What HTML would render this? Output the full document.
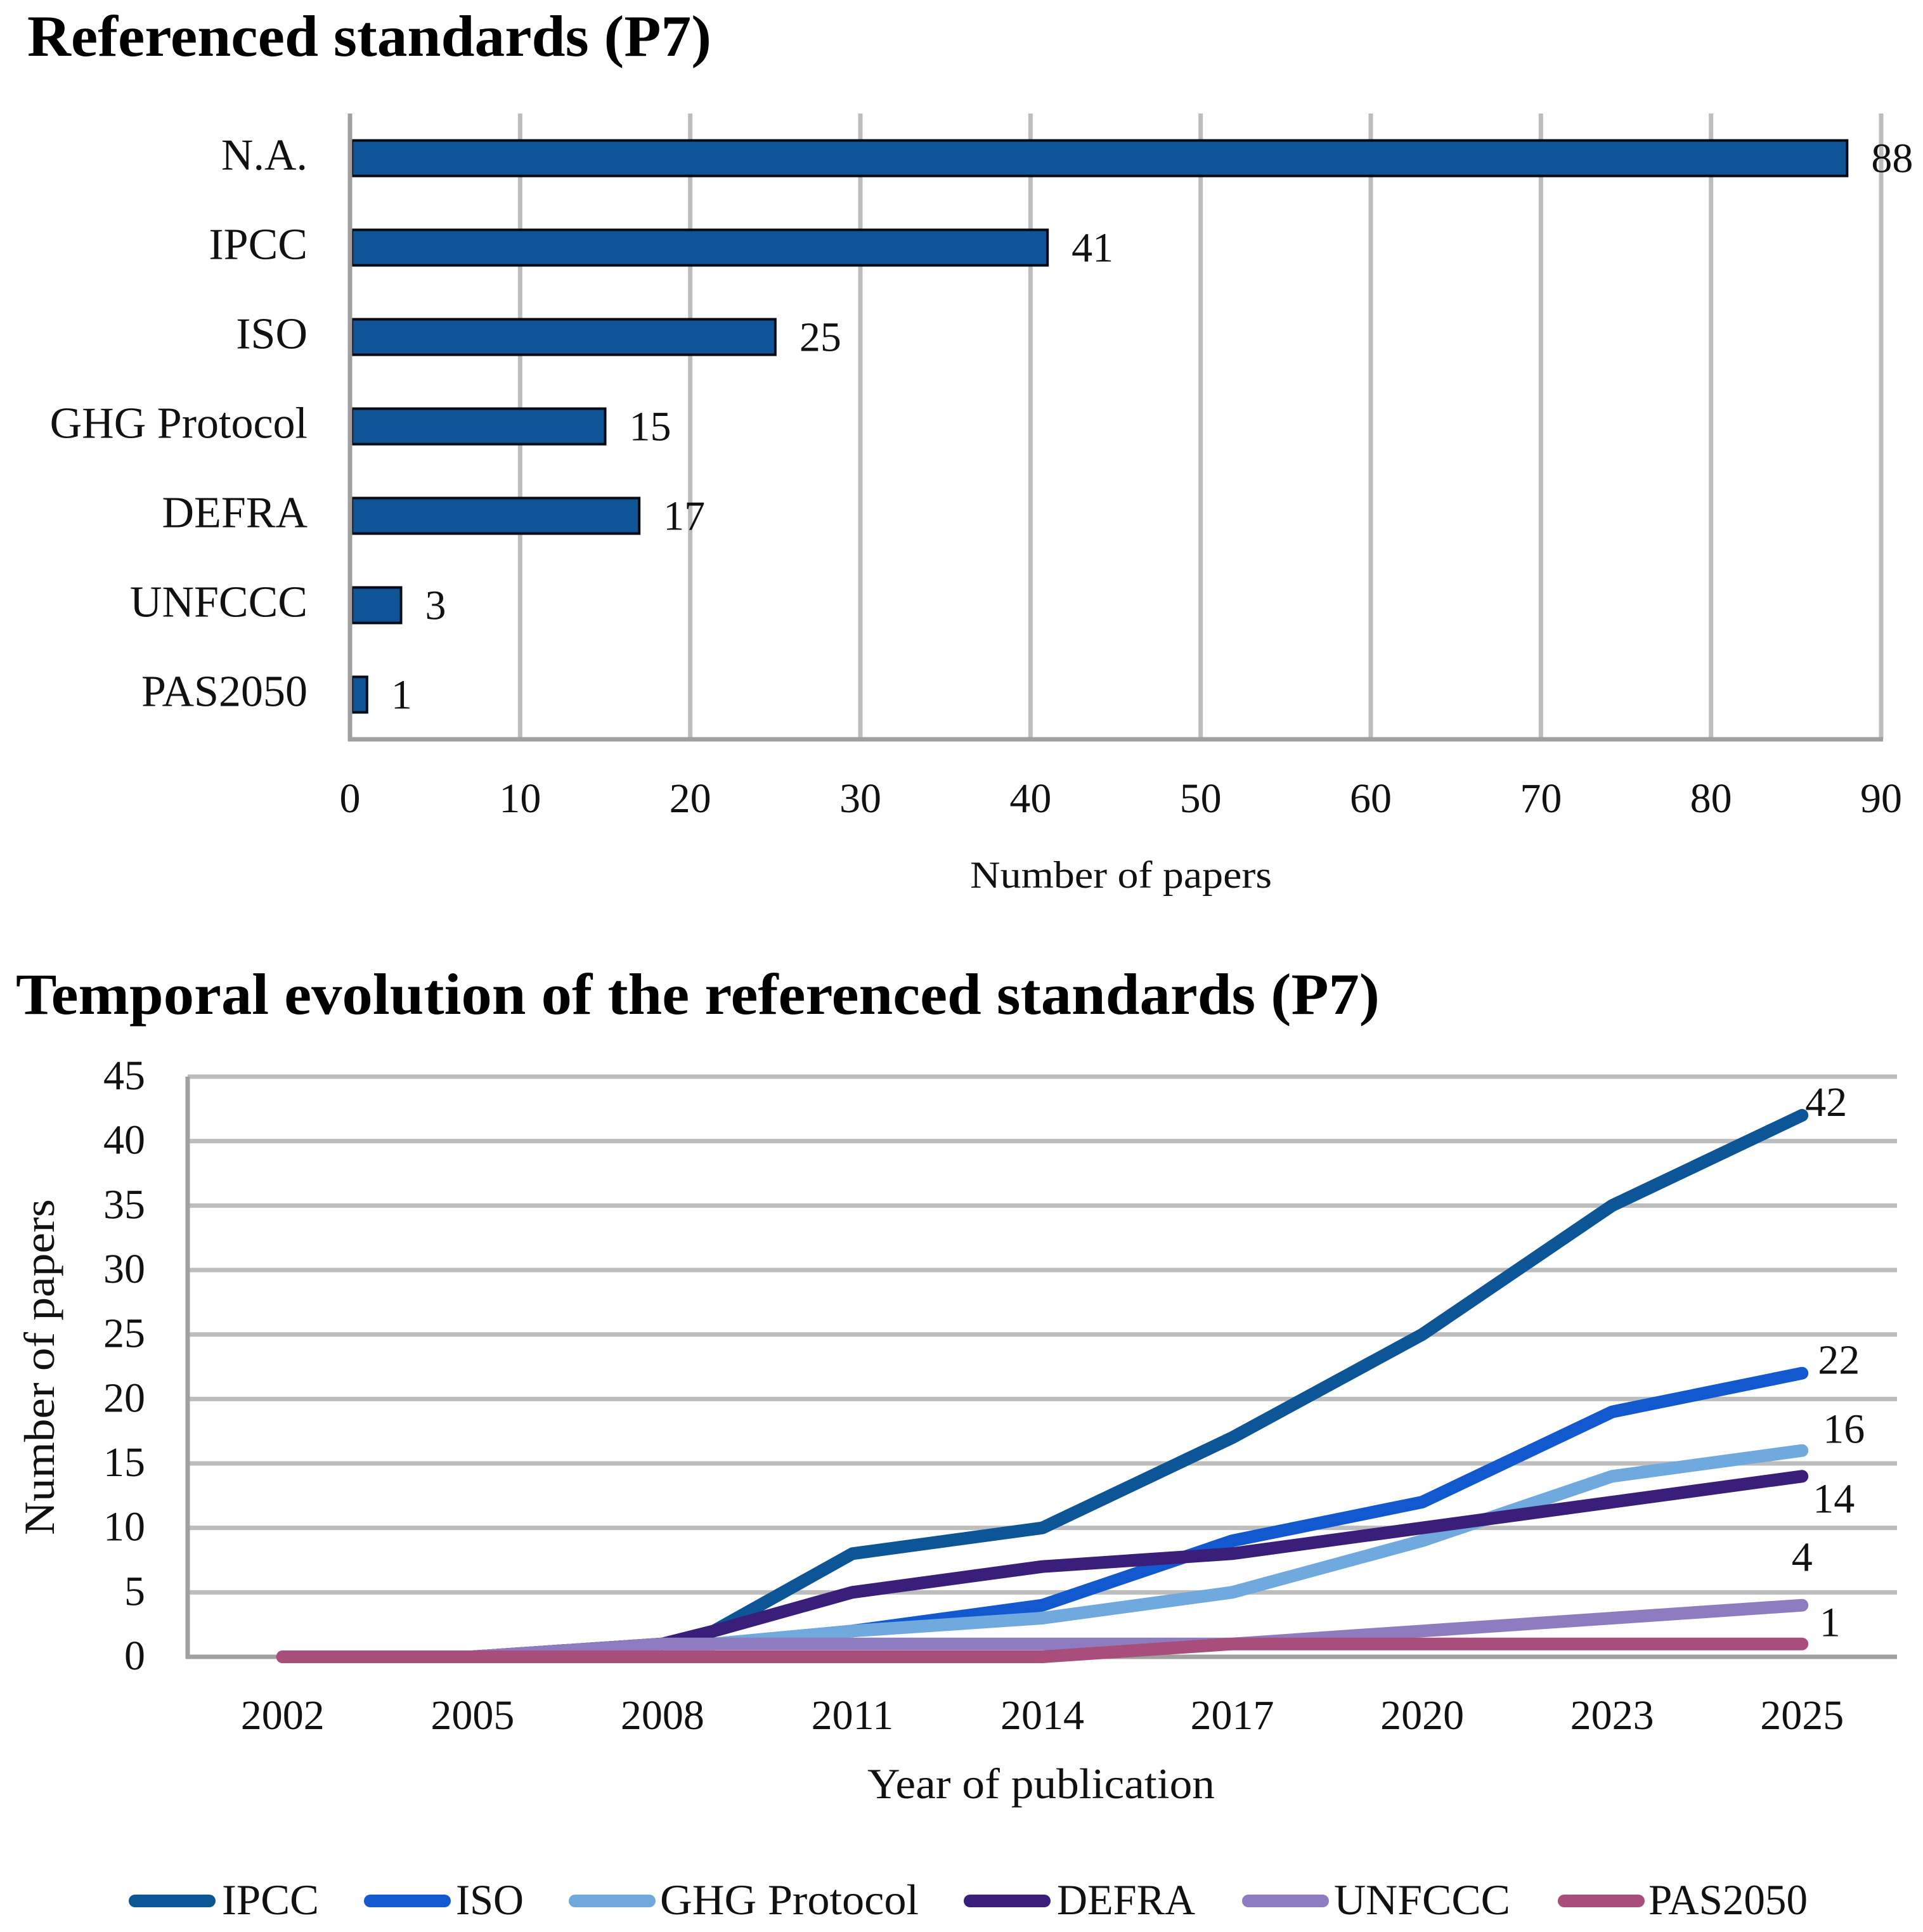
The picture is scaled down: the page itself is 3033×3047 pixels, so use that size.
<!DOCTYPE html>
<html lang="en">
<head>
<meta charset="utf-8">
<title>Referenced standards (P7)</title>
<style>
html,body{margin:0;padding:0;background:#fff;}
svg{display:block;}
text{font-family:"Liberation Serif",serif;fill:#111;}
</style>
</head>
<body>
<svg id="figure" width="3033" height="3047" viewBox="0 0 3033 3047" xmlns="http://www.w3.org/2000/svg">
  <rect x="0" y="0" width="3033" height="3047" fill="#fff"/>
  <text x="43" y="88" font-size="92" font-weight="700" textLength="1079" lengthAdjust="spacingAndGlyphs" style="fill:#000">Referenced standards (P7)</text>
  <g id="bar-chart"></g>
  <text x="1768" y="1400" font-size="60" text-anchor="middle" textLength="476" lengthAdjust="spacingAndGlyphs">Number of papers</text>
  <text x="25" y="1599" font-size="92" font-weight="700" textLength="2151" lengthAdjust="spacingAndGlyphs" style="fill:#000">Temporal evolution of the referenced standards (P7)</text>
  <g id="line-chart"></g>
  <text x="1642" y="2836" font-size="68" text-anchor="middle" textLength="548" lengthAdjust="spacingAndGlyphs">Year of publication</text>
  <text transform="translate(85 2156) rotate(-90)" font-size="68" text-anchor="middle" textLength="530" lengthAdjust="spacingAndGlyphs">Number of papers</text>
  <g>
    <g>
      <line x1="213" y1="2998" x2="330" y2="2998" stroke="#0c5597" stroke-width="20" stroke-linecap="round"/>
      <text x="350" y="3019" font-size="68" textLength="153" lengthAdjust="spacingAndGlyphs">IPCC</text>
    </g>
    <g>
      <line x1="584" y1="2998" x2="701" y2="2998" stroke="#1259d0" stroke-width="20" stroke-linecap="round"/>
      <text x="719" y="3019" font-size="68" textLength="107" lengthAdjust="spacingAndGlyphs">ISO</text>
    </g>
    <g>
      <line x1="907" y1="2998" x2="1024" y2="2998" stroke="#70a9de" stroke-width="20" stroke-linecap="round"/>
      <text x="1041" y="3019" font-size="68" textLength="408" lengthAdjust="spacingAndGlyphs">GHG Protocol</text>
    </g>
    <g>
      <line x1="1530" y1="2998" x2="1647" y2="2998" stroke="#391e7a" stroke-width="20" stroke-linecap="round"/>
      <text x="1667" y="3019" font-size="68" textLength="218" lengthAdjust="spacingAndGlyphs">DEFRA</text>
    </g>
    <g>
      <line x1="1969" y1="2998" x2="2086" y2="2998" stroke="#8e7bc0" stroke-width="20" stroke-linecap="round"/>
      <text x="2104" y="3019" font-size="68" textLength="278" lengthAdjust="spacingAndGlyphs">UNFCCC</text>
    </g>
    <g>
      <line x1="2467" y1="2998" x2="2584" y2="2998" stroke="#a94d7b" stroke-width="20" stroke-linecap="round"/>
      <text x="2600" y="3019" font-size="68" textLength="251" lengthAdjust="spacingAndGlyphs">PAS2050</text>
    </g>
  </g>
</svg>
<script>
/* Bar chart data */
const barCategories = ["N.A.", "IPCC", "ISO", "GHG Protocol", "DEFRA", "UNFCCC", "PAS2050"];
const barValues = [88, 41, 25, 15, 17, 3, 1];
const barTicks = [0, 10, 20, 30, 40, 50, 60, 70, 80, 90];

/* Line chart data */
const lineCategories = ["2002", "2005", "2008", "2011", "2014", "2017", "2020", "2023", "2025"];
const pointSlots = [0, 1, 2, 2.27, 3, 4, 5, 6, 7, 8];
const lineTicks = [0, 5, 10, 15, 20, 25, 30, 35, 40, 45];
const seriesNames = ["IPCC", "ISO", "GHG Protocol", "DEFRA", "UNFCCC", "PAS2050"];
const ipccValues = [0, 0, 1, 2, 8, 10, 17, 25, 35, 42];
const isoValues = [0, 0, 1, 1, 2, 4, 9, 12, 19, 22];
const ghgValues = [0, 0, 1, 1, 2, 3, 5, 9, 14, 16];
const defraValues = [0, 0, 1, 2, 5, 7, 8, 10, 12, 14];
const unfcccValues = [0, 0, 1, 1, 1, 1, 1, 2, 3, 4];
const pas2050Values = [0, 0, 0, 0, 0, 0, 1, 1, 1, 1];

const NS = "http://www.w3.org/2000/svg";
const seriesValues = [ipccValues, isoValues, ghgValues, defraValues, unfcccValues, pas2050Values];
const seriesColors = ["#0c5597", "#1259d0", "#70a9de", "#391e7a", "#8e7bc0", "#a94d7b"];
const endLabelShift = [[38, 1], [58, 1], [66, -12], [50, 57], [0, -54], [44, -12]];

function slug(s) { return s.toLowerCase().replace(/[^a-z0-9]+/g, "-"); }
function make(tag, parent, attrs, content) {
  const el = document.createElementNS(NS, tag);
  for (const k in attrs) el.setAttribute(k, attrs[k]);
  if (content !== undefined) el.textContent = content;
  parent.appendChild(el);
  return el;
}

/* Bar chart */
const barG = document.getElementById("bar-chart");
const bLeft = 552, bRight = 2967, bTop = 179, bBottom = 1166;
const bMax = barTicks[barTicks.length - 1];
function barX(v) { return bLeft + (v / bMax) * (bRight - bLeft); }
function barY(i) { return bTop + (i + 0.5) * (bBottom - bTop) / barCategories.length; }

barTicks.forEach(function (t) {
  if (t !== 0) {
    const grid = make("line", barG, { x1: barX(t), x2: barX(t), y1: bTop, y2: bBottom, stroke: "#bdbdbd", "stroke-width": 7 });
    
    
  }
  const lab = make("text", barG, { x: barX(t), y: 1281, "font-size": 66, "text-anchor": "middle" }, String(t));
  
  
});

const bxAxis = make("line", barG, { x1: bLeft - 3, x2: bRight + 3, y1: bBottom, y2: bBottom, stroke: "#a0a0a0", "stroke-width": 7 });



barCategories.forEach(function (c, i) {
  const cy = barY(i);
  const rect = make("rect", barG, { x: bLeft + 3, y: cy - 28, width: barX(barValues[i]) - bLeft - 3, height: 56, fill: "#0e5496", stroke: "#050a14", "stroke-width": 4 });
  
  
  const cat = make("text", barG, { x: 485, y: cy + 18, "font-size": 70, "text-anchor": "end" }, c);
  
  
  const val = make("text", barG, { x: barX(barValues[i]) + 38, y: cy + 22, "font-size": 66 }, String(barValues[i]));
  
  
});

const byAxis = make("line", barG, { x1: bLeft, x2: bLeft, y1: bTop, y2: bBottom + 3, stroke: "#a0a0a0", "stroke-width": 7 });



/* Line chart */
const lineG = document.getElementById("line-chart");
const lLeft = 296, lRight = 2992, lTop = 1698, lBottom = 2613;
const lMax = lineTicks[lineTicks.length - 1];
function lineX(slot) { return lLeft + (slot + 0.5) * (lRight - lLeft) / lineCategories.length; }
function lineY(v) { return lBottom - (v / lMax) * (lBottom - lTop); }

lineTicks.forEach(function (t) {
  if (t !== 0) {
    const grid = make("line", lineG, { x1: lLeft, x2: lRight, y1: lineY(t), y2: lineY(t), stroke: "#bdbdbd", "stroke-width": 7 });
    
    
  }
  const lab = make("text", lineG, { x: 229, y: lineY(t) + 20, "font-size": 66, "text-anchor": "end" }, String(t));
  
  
});

const lyAxis = make("line", lineG, { x1: lLeft, x2: lLeft, y1: lTop, y2: lBottom + 3, stroke: "#a0a0a0", "stroke-width": 7 });


const lxAxis = make("line", lineG, { x1: lLeft - 3, x2: lRight, y1: lBottom, y2: lBottom, stroke: "#a0a0a0", "stroke-width": 7 });



lineCategories.forEach(function (c, i) {
  const lab = make("text", lineG, { x: lineX(i), y: 2727, "font-size": 66, "text-anchor": "middle" }, c);
  
  
});

seriesNames.forEach(function (name, s) {
  const vals = seriesValues[s];
  const d = vals.map(function (v, i) {
    return (i ? "L" : "M") + lineX(pointSlots[i]).toFixed(1) + " " + lineY(v).toFixed(1);
  }).join(" ");
  const path = make("path", lineG, { d: d, fill: "none", stroke: seriesColors[s], "stroke-width": 20, "stroke-linecap": "round", "stroke-linejoin": "round" });
  
  
});

seriesNames.forEach(function (name, s) {
  const vals = seriesValues[s];
  const last = vals.length - 1;
  const ex = lineX(pointSlots[last]);
  const ey = lineY(vals[last]);
  const lab = make("text", lineG, { x: ex + endLabelShift[s][0], y: ey + endLabelShift[s][1], "font-size": 66, "text-anchor": "middle" }, String(vals[last]));
  
  
});
</script>
</body>
</html>
